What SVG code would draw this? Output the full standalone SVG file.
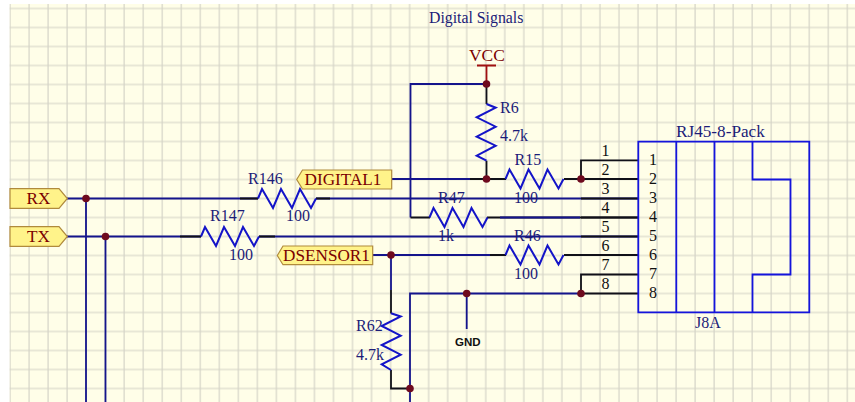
<svg xmlns="http://www.w3.org/2000/svg" width="855" height="402" viewBox="0 0 855 402">
<style>
text{font-family:"Liberation Serif","Times New Roman",serif;font-size:16px}
.nv{fill:#1c1c78}
.rd{fill:#7a0000}
.lb{font-size:17.2px}
.bk{fill:#101010}
.w{fill:none;stroke:#14148c;stroke-width:1.8}
.b{fill:none;stroke:#101018;stroke-width:1.8}
.r{fill:none;stroke:#1414c8;stroke-width:2}
.red{fill:none;stroke:#a01010;stroke-width:1.8}
.j{fill:#6e0a1e}
.p{fill:#fff38a;stroke:#b08a3c;stroke-width:1.2}
.box{fill:none;stroke:#1414dc;stroke-width:1.8}
</style>
<defs>
<pattern id="grid" patternUnits="userSpaceOnUse" x="8" y="6.5" width="19.03" height="19">
<rect width="19.03" height="19" fill="#fffee8"/>
<rect x="0" y="1.1" width="19.03" height="1.8" fill="#e6e5d4"/>
<rect x="1.4" y="0" width="1.2" height="19" fill="#d6d5c8"/>
</pattern>
<path id="zig" class="r" d="M0 0L4 -9.5L15 9.5L23 -9.5L34 9.5L42 -9.5L53 9.5L58 0"/>
</defs>
<rect width="855" height="402" fill="#fff"/>
<rect x="9.5" y="4" width="846" height="398" fill="url(#grid)"/>

<g id="connectors">
<path class="w" d="M67 198.5H258M316 198.5H638"/>
<path class="w" d="M67 236.5H201M259 236.5H638"/>
<path class="w" d="M86 198.5V402M105.5 236.5V402"/>
<path class="b" d="M240 198.5H258M316 198.5H330M180 236.5H201M259 236.5H275"/>
<path class="w" d="M392 179H486.5M373 255H506M565 255H638"/>
<path class="b" d="M470 179H506M564 179H638M581 179V160.3H638"/>
<path class="b" d="M490 255H506M564 255H638"/>
<path class="w" d="M486.5 84H410.5V217.5"/>
<path class="b" d="M410.5 217.5H430M487 217.5H638"/>
<path class="w" d="M500 217.5H580"/>
<path class="b" d="M486.5 84V104M486.5 160.7V179"/>
<path class="red" d="M486.5 84V65.5M477 65.5H496"/>
<path class="w" d="M391 255V290"/>
<path class="b" d="M391 290V313.5M391 370V388.5H410"/>
<path class="w" d="M410 402V293.5H581"/>
<path class="b" d="M581 293.5H638M581 293.5V274.5H638"/>
<path class="w" d="M466.7 293.5V329"/>
<path class="b" d="M581 198.5H638M581 217.5H638M581 236.5H638"/>
<g class="j">
<circle cx="86" cy="198.5" r="3.8"/>
<circle cx="105.5" cy="236.5" r="3.8"/>
<circle cx="486.5" cy="84" r="3.8"/>
<circle cx="486.5" cy="179" r="3.8"/>
<circle cx="581" cy="179" r="3.8"/>
<circle cx="391" cy="255" r="3.8"/>
<circle cx="466.7" cy="293.5" r="3.8"/>
<circle cx="581" cy="293.5" r="3.8"/>
<circle cx="410" cy="388.5" r="3.8"/>
</g>
</g>

<text id="title" x="429" y="23" class="nv" style="font-size:15.8px">Digital Signals</text>

<g id="VCC">
<text x="469" y="61" class="rd" style="font-size:17.4px">VCC</text>
</g>
<g id="GND">
<text x="455" y="346" style="font-family:'Liberation Sans',Arial,sans-serif;font-size:11.5px;font-weight:bold" class="bk">GND</text>
</g>

<g id="RX"><polygon class="p" points="10,188.7 59,188.7 67.3,198.5 59,208.3 10,208.3"/><text x="26.5" y="204" class="rd lb">RX</text></g>
<g id="TX"><polygon class="p" points="10,226.7 59,226.7 67.3,236.5 59,246.3 10,246.3"/><text x="27" y="242" class="rd lb">TX</text></g>
<g id="DIGITAL1"><polygon class="p" points="296.7,179.5 302.5,170 391.7,170 391.7,189 302.5,189"/><text x="304.5" y="185" class="rd lb">DIGITAL1</text></g>
<g id="DSENSOR1"><polygon class="p" points="277.3,255.5 283,246 372.7,246 372.7,264.7 283,264.7"/><text x="283" y="261" class="rd lb">DSENSOR1</text></g>

<g id="R146"><use href="#zig" x="258" y="198.5"/><text x="248" y="184" class="nv">R146</text><text x="286" y="221" class="nv">100</text></g>
<g id="R147"><use href="#zig" x="201" y="236.5"/><text x="210" y="221" class="nv">R147</text><text x="229" y="260" class="nv">100</text></g>
<g id="R15"><use href="#zig" x="505.5" y="179"/><text x="514.5" y="165" class="nv">R15</text><text x="514" y="203" class="nv">100</text></g>
<g id="R47"><use href="#zig" x="429.5" y="217.5"/><text x="438" y="203" class="nv">R47</text><text x="438" y="241" class="nv">1k</text></g>
<g id="R46"><use href="#zig" x="505.5" y="255"/><text x="514" y="241" class="nv">R46</text><text x="514" y="279" class="nv">100</text></g>
<g id="R6"><path class="r" d="M486.5 104L495.7 107.7L476.7 117.3L495.7 126.7L476.7 136.7L495.7 145.7L476.7 155.7L486.5 160.7"/><text x="500" y="113" class="nv">R6</text><text x="500" y="141" class="nv">4.7k</text></g>
<g id="R62"><path class="r" d="M391 313.3L400.7 316.5L381.7 326L400.7 335.7L381.7 345L400.7 354.7L381.7 364.3L391 370"/><text x="356" y="331" class="nv">R62</text><text x="356" y="360" class="nv">4.7k</text></g>

<g id="J8A">
<path class="box" d="M638.3 141.7H809.3V312.3H638.3ZM676.3 141.7V312.3M714.5 141.7V312.3M752.5 141.7V179.5H790.5V274.5H752.5V312.3"/>
<text x="676" y="137" class="nv lb">RJ45-8-Pack</text>
<text x="695" y="328" class="nv">J8A</text>
<g class="bk">
<text x="601.5" y="156">1</text><text x="601.5" y="175">2</text><text x="601.5" y="194">3</text><text x="601.5" y="213">4</text><text x="601.5" y="232">5</text><text x="601.5" y="251">6</text><text x="601.5" y="270">7</text><text x="601.5" y="289">8</text>
<text x="649" y="165">1</text><text x="649" y="184">2</text><text x="649" y="203">3</text><text x="649" y="222">4</text><text x="649" y="241">5</text><text x="649" y="260">6</text><text x="649" y="279">7</text><text x="649" y="298">8</text>
</g>
</g>
</svg>
